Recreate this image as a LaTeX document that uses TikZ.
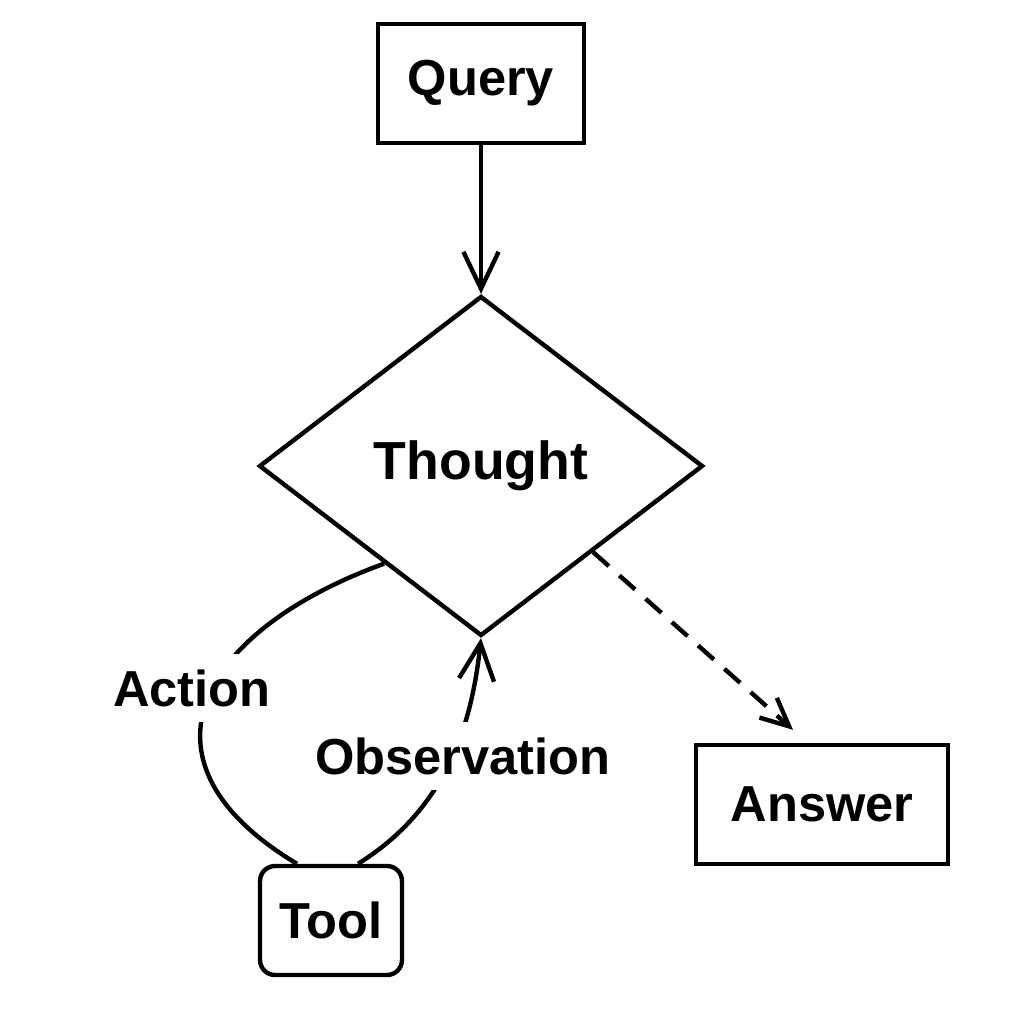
\documentclass[tikz,border=0pt]{standalone}
\usepackage{fontspec}
\setmainfont{Liberation Sans}
\usetikzlibrary{shapes.geometric,arrows.meta,calc}
\begin{document}
\begin{tikzpicture}[x=0.02cm,y=-0.02cm,
  line width=2.5pt,
  labelfont/.style={font=\fontsize{28.8}{32}\selectfont\bfseries},
  box/.style={draw,rectangle,inner sep=0pt,labelfont},
  lbl/.style={fill=white,inner xsep=3pt,inner ysep=9pt,labelfont},
  barb/.style={-{Straight Barb[length=21pt,width=20pt]}},
  smallbarb/.style={-{Straight Barb[length=16pt,width=15pt]}},
  dashline/.style={dash pattern=on 12pt off 8pt},
]
\useasboundingbox (0,0) rectangle (1024,1024);

% nodes
\node[box,minimum width=4.12cm,minimum height=2.38cm] (query) at (481,83.5) {Query};
\node[draw,diamond,inner sep=0pt,minimum width=8.88cm,minimum height=6.8cm,
      font=\fontsize{30.5}{34}\selectfont\bfseries] (thought) at (481,466) {Thought};
\node[box,minimum width=5.04cm,minimum height=2.38cm] (answer) at (822,804.5) {Answer};
\node[box,rounded corners=0.3cm,minimum width=2.84cm,minimum height=2.18cm] (tool) at (331,920.5) {Tool};

% connectors
\draw[barb] (query.south) -- (thought.north);
\draw[smallbarb,dashline] (thought.south east) -- ($(answer.north)+(-29,-13)$);
\draw ([xshift=-0.68cm]tool.north) .. controls +(-175,-105) and +(-180,65) ..
      ($(thought.south west)!0.135!(thought.south)$);
\draw[barb] ([xshift=0.54cm]tool.north) .. controls +(90,-56) and +(-9,84) .. (thought.south);

% loop labels
\node[lbl] (actlbl) at (192,688) {Action};
\node[lbl] (obslbl) at (463,756) {Observation};
\end{tikzpicture}
\end{document}
